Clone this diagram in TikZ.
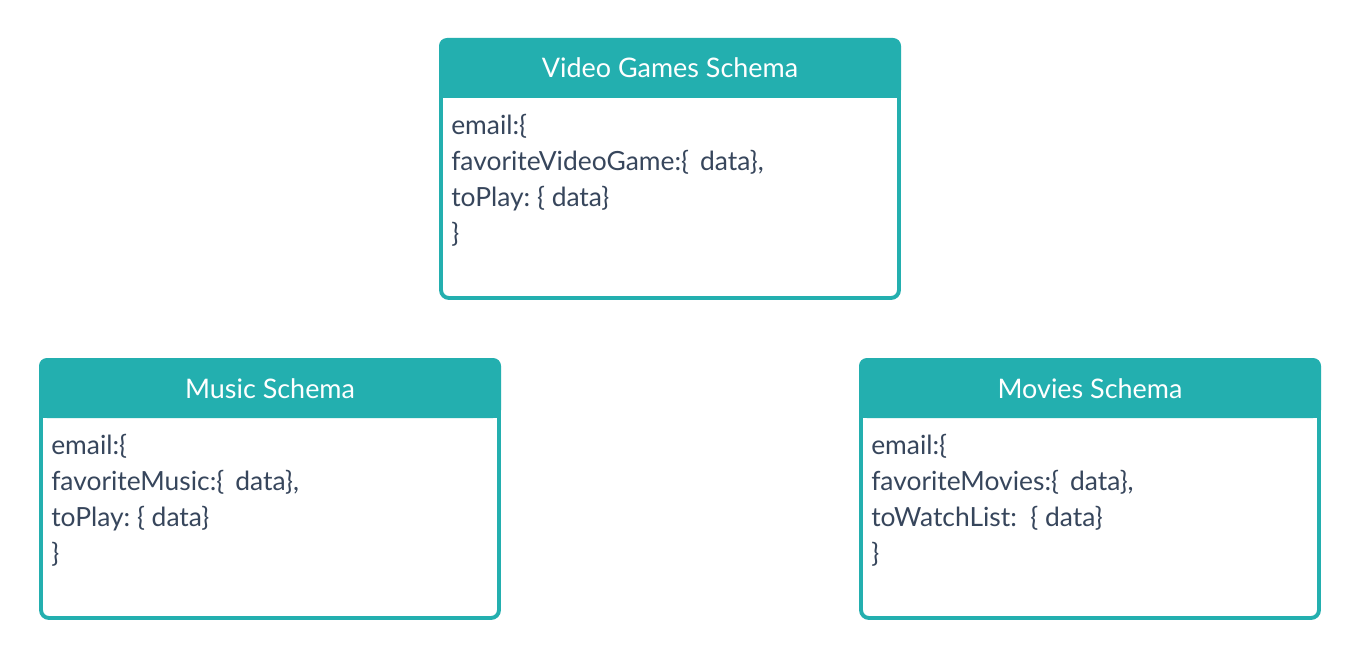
\documentclass[tikz,border=0pt]{standalone}
\usepackage{fontspec}
\setmainfont{Lato}
\definecolor{teal1}{RGB}{35,175,175}
\definecolor{txt}{RGB}{55,70,92}
\begin{document}
\begin{tikzpicture}[x=0.75pt,y=-0.75pt,
  frame/.style={draw=teal1,line width=2.9pt,rounded corners=6pt},
  head/.style={fill=teal1,rounded corners=6pt},
  title/.style={text=white,font=\fontsize{20.2}{24}\selectfont,anchor=base,inner sep=0pt},
  body/.style={text=txt,font=\fontsize{19.8}{27}\selectfont,anchor=base west,inner sep=0pt}]
\useasboundingbox[fill=white] (0,0) rectangle (1360,660);
\foreach \nm/\x/\y in {vg/439/38,mu/39/358,mo/859/358}{
  \coordinate (\nm-tl) at (\x+2,\y+2);
  \coordinate (\nm-br) at (\x+460,\y+260);
  \fill[head] (\x,\y) rectangle (\x+462,\y+60);
  \fill[teal1] (\x,\y+30) rectangle (\x+462,\y+60);
  \draw[frame] (\nm-tl) rectangle (\nm-br);
}
\node[title] (vgt) at (670,78) {Video Games Schema};
\node[title] (mut) at (270,398) {Music Schema};
\node[title] (mot) at (1090,398) {Movies Schema};
\foreach \nm/\x/\y/\a/\b/\c in {vg/451/134/favoriteVideoGame/toPlay/\ ,mu/51/454/favoriteMusic/toPlay/\ ,mo/871/454/favoriteMovies/toWatchList/\ \ }{
  \node[body] (\nm-l1) at (\x,\y) {email:\{};
  \node[body] (\nm-l2) at (\x,\y+36) {\a:\{\hspace{0.42em}data\},};
  \node[body] (\nm-l3) at (\x,\y+72) {\b:\c\{ data\}};
  \node[body] (\nm-l4) at (\x,\y+108) {\}};
}
\end{tikzpicture}
\end{document}
